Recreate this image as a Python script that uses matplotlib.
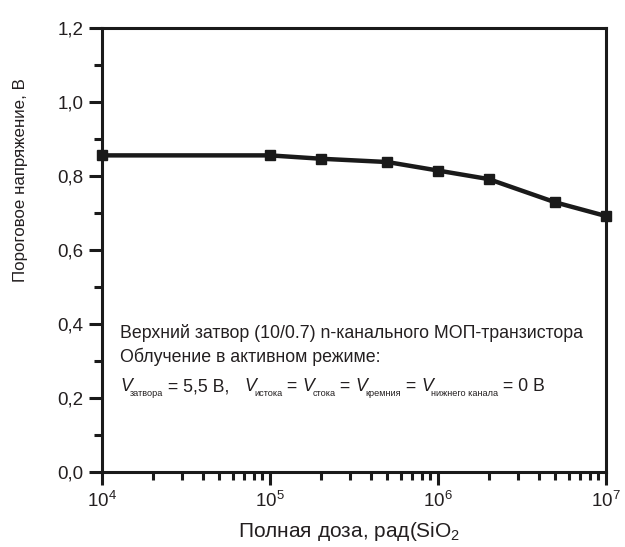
import numpy as np
import matplotlib
matplotlib.use("Agg")
import matplotlib.pyplot as plt
from matplotlib.ticker import FixedLocator, FuncFormatter, MultipleLocator
from matplotlib.transforms import offset_copy

plt.rcParams["font.family"] = ["Liberation Sans", "DejaVu Sans"]
plt.rcParams["mathtext.fontset"] = "custom"
plt.rcParams["mathtext.rm"] = "Liberation Sans"
plt.rcParams["mathtext.it"] = "Liberation Sans:italic"
plt.rcParams["mathtext.bf"] = "Liberation Sans:bold"

# Доза облучения, рад(SiO2), и пороговое напряжение, В
dose = [1e4, 1e5, 2e5, 5e5, 1e6, 2e6, 5e6, 1e7]
vth = [0.855, 0.855, 0.846, 0.837, 0.814, 0.791, 0.728, 0.691]

x_label = "Полная доза, рад(SiO$_2$"
y_label = "Пороговое напряжение, В"
note_lines = [
    "Верхний затвор (10/0.7) n-канального МОП-транзистора",
    "Облучение в активном режиме:",
]
# третья строка: (текст, вид) — V курсивом, мелкие индексы, обычный текст
bias_parts = [
    ("V", "v"), ("затвора", "sub"), (" = 5,5 В,   ", "n"),
    ("V", "v"), ("истока", "sub"), (" = ", "n"),
    ("V", "v"), ("стока", "sub"), (" = ", "n"),
    ("V", "v"), ("кремния", "sub"), (" = ", "n"),
    ("V", "v"), ("нижнего канала", "sub"), (" = 0 В", "n"),
]

ink = "#1a1a1a"
text_c = "#231f20"
note_fs = 12.8

fig = plt.figure(figsize=(6.25, 5.47), dpi=100)
ax = fig.add_axes([0.1632, 0.1376, 0.8064, 0.8117])

ax.plot(dose, vth, color=ink, lw=3.2, marker="s", ms=7,
        mec=ink, mfc=ink, clip_on=False, zorder=5)

ax.set_xscale("log")
ax.set_xlim(1e4, 1e7)
ax.set_ylim(0.0, 1.2)

ax.xaxis.set_major_locator(FixedLocator([1e4, 1e5, 1e6, 1e7]))
ax.xaxis.set_major_formatter(
    FuncFormatter(lambda v, p: r"$\mathrm{10^{%d}}$" % int(round(np.log10(v)))))
ax.yaxis.set_major_locator(MultipleLocator(0.2))
ax.yaxis.set_minor_locator(MultipleLocator(0.1))
ax.yaxis.set_major_formatter(FuncFormatter(lambda v, p: f"{v:.1f}".replace(".", ",")))

for s in ax.spines.values():
    s.set_linewidth(2.2)
    s.set_color(ink)

ax.tick_params(axis="both", which="major", direction="out", length=9.5,
               width=2.2, color=ink, labelsize=13.5, labelcolor=text_c, pad=4)
ax.tick_params(axis="both", which="minor", direction="out", length=5.5,
               width=2.2, color=ink)
ax.tick_params(axis="x", which="minor", labelbottom=False)

ax.set_xlabel(x_label, fontsize=15, color=text_c)
ax.xaxis.set_label_coords(0.49, -0.108)
ax.set_ylabel(y_label, fontsize=12.2, color=text_c)
ax.yaxis.set_label_coords(-0.147, 0.657)

for txt, yy in zip(note_lines, [0.302, 0.247]):
    ax.text(0.036, yy, txt, transform=ax.transAxes, fontsize=note_fs,
            color=text_c, va="baseline", ha="left")

# третья строка собирается по кусочкам, чтобы индексы были мелкими
renderer = fig.canvas.get_renderer()
x_off = 0.0
for txt, kind in bias_parts:
    if kind == "v":
        kw = dict(fontsize=note_fs, style="italic")
        dy, squeeze = 0.0, 1.5
    elif kind == "sub":
        kw = dict(fontsize=6.6)
        dy, squeeze = -3.5, 0.0
    else:
        kw = dict(fontsize=note_fs)
        dy, squeeze = 0.0, 0.0
    tr = offset_copy(ax.transAxes, fig=fig, x=x_off, y=dy, units="points")
    t = ax.text(0.036, 0.181, txt, transform=tr, color=text_c,
                va="baseline", ha="left", **kw)
    w = t.get_window_extent(renderer).width * 72.0 / fig.dpi
    x_off += w - squeeze

fig.savefig("out.png", dpi=100)
